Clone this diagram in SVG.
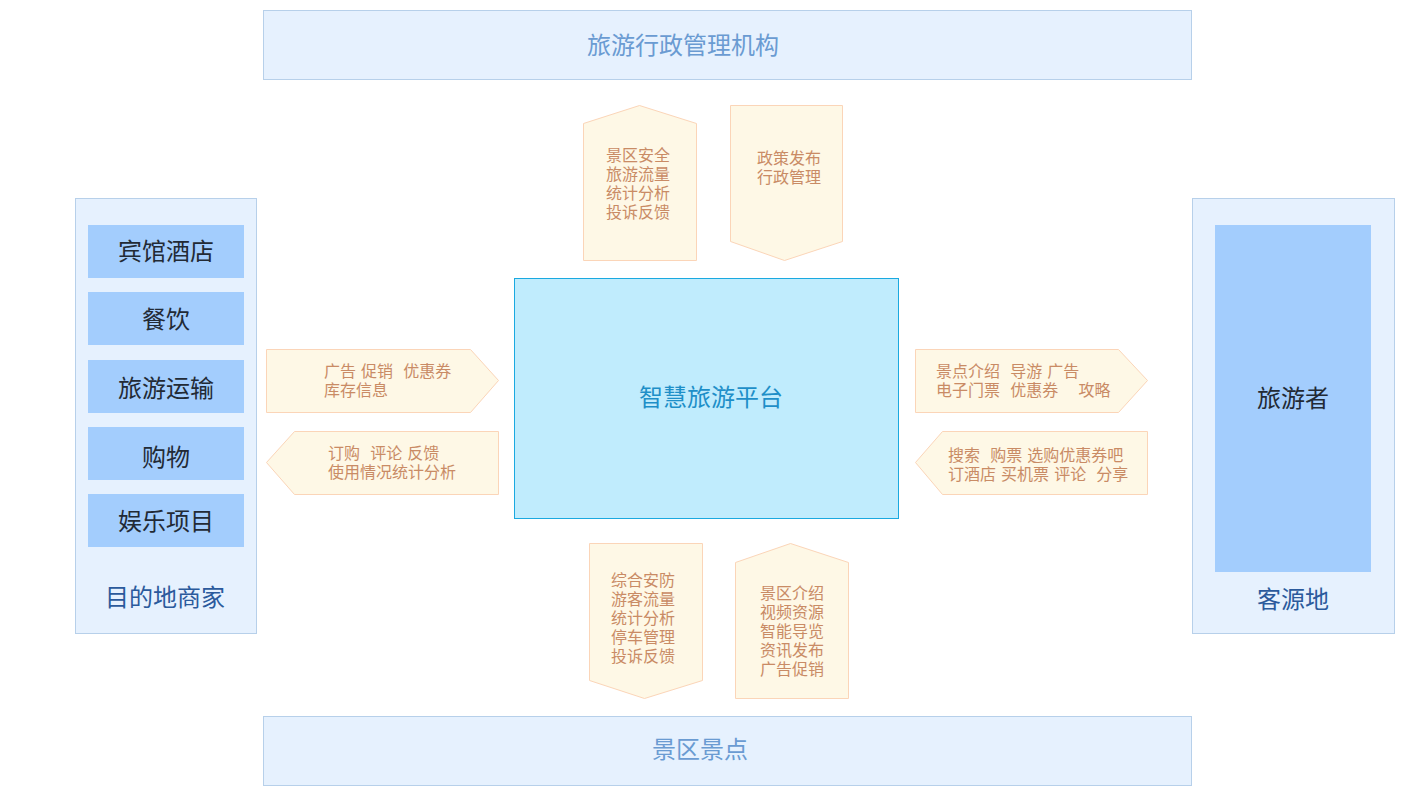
<svg xmlns="http://www.w3.org/2000/svg" width="1421" height="807" viewBox="0 0 1421 807">
<style>
text{font-family:"Microsoft YaHei","Noto Sans CJK SC",sans-serif}
.band{fill:#e6f1fe;stroke:#b7d0ea;stroke-width:1}
.bandt{font-size:24px;fill:#6a9bd2;text-anchor:middle}
.cont{fill:#e6f1fe;stroke:#b7d0ea;stroke-width:1}
.item{fill:#a3cdfd}
.itemt{font-size:24px;fill:#222a35;text-anchor:middle}
.lab{font-size:24px;fill:#2b5a9c;text-anchor:middle}
.arr{fill:#fef8e6;stroke:#fbd5b8;stroke-width:1}
.at{font-size:16px;fill:#c98b65;word-spacing:1.5px}
.atc{font-size:16px;fill:#c98b65;text-anchor:middle}
</style>
<rect width="1421" height="807" fill="#ffffff"/>
<g id="admin"><rect class="band" x="263.5" y="10.5" width="928" height="69"/><text class="bandt" x="683" y="54">旅游行政管理机构</text></g>
<g id="scenic"><rect class="band" x="263.5" y="716.5" width="928" height="69"/><text class="bandt" x="700" y="758">景区景点</text></g>
<g id="merchants">
<rect class="cont" x="75.5" y="198.5" width="181" height="435"/>
<rect class="item" x="88" y="225" width="156" height="53"/><text class="itemt" x="166" y="260">宾馆酒店</text>
<rect class="item" x="88" y="292" width="156" height="53"/><text class="itemt" x="166" y="328">餐饮</text>
<rect class="item" x="88" y="360" width="156" height="53"/><text class="itemt" x="166" y="397">旅游运输</text>
<rect class="item" x="88" y="427" width="156" height="53"/><text class="itemt" x="166" y="466">购物</text>
<rect class="item" x="88" y="494" width="156" height="53"/><text class="itemt" x="166" y="530">娱乐项目</text>
<text class="lab" x="165" y="606">目的地商家</text>
</g>
<g id="origin">
<rect class="cont" x="1192.5" y="198.5" width="202" height="435"/>
<rect class="item" x="1215" y="225" width="156" height="347"/><text class="itemt" x="1293" y="407">旅游者</text>
<text class="lab" x="1293" y="608">客源地</text>
</g>
<g id="platform"><rect x="514.5" y="278.5" width="384" height="240" fill="#c0ecfd" stroke="#1aa9e0"/><text x="711" y="406" font-size="24" fill="#1e8fc8" text-anchor="middle">智慧旅游平台</text></g>
<g id="connectors">
<g id="up-tl"><polygon class="arr" points="583.5,123.5 639.5,105.5 696.5,123.5 696.5,260.5 583.5,260.5"/>
<text class="atc" x="638" y="161">景区安全</text><text class="atc" x="638" y="180">旅游流量</text><text class="atc" x="638" y="199">统计分析</text><text class="atc" x="638" y="218">投诉反馈</text></g>
<g id="down-tr"><polygon class="arr" points="730.5,105.5 842.5,105.5 842.5,241.5 784.5,260.5 730.5,241.5"/>
<text class="atc" x="789" y="164">政策发布</text><text class="atc" x="789" y="183">行政管理</text></g>
<g id="right-l1"><polygon class="arr" points="266.5,349.5 470.5,349.5 498.5,380.5 470.5,412.5 266.5,412.5"/>
<text class="at" x="324" y="377" xml:space="preserve">广告 促销  优惠券</text><text class="at" x="324" y="396">库存信息</text></g>
<g id="left-l2"><polygon class="arr" points="294.5,431.5 498.5,431.5 498.5,494.5 294.5,494.5 266.5,462.5"/>
<text class="at" x="328" y="459" xml:space="preserve">订购  评论 反馈</text><text class="at" x="328" y="478">使用情况统计分析</text></g>
<g id="right-r1"><polygon class="arr" points="915.5,349.5 1118.5,349.5 1147.5,380.5 1118.5,412.5 915.5,412.5"/>
<text class="at" x="936" y="377" xml:space="preserve">景点介绍  导游 广告</text><text class="at" x="936" y="396" xml:space="preserve">电子门票  优惠券    攻略</text></g>
<g id="left-r2"><polygon class="arr" points="942.5,431.5 1147.5,431.5 1147.5,494.5 942.5,494.5 915.5,462.5"/>
<text class="at" x="948" y="461" xml:space="preserve">搜索  购票 选购优惠券吧</text><text class="at" x="948" y="480" xml:space="preserve">订酒店 买机票 评论  分享</text></g>
<g id="down-bl"><polygon class="arr" points="589.5,543.5 702.5,543.5 702.5,680.5 644.5,698.5 589.5,680.5"/>
<text class="atc" x="643" y="586">综合安防</text><text class="atc" x="643" y="605">游客流量</text><text class="atc" x="643" y="624">统计分析</text><text class="atc" x="643" y="643">停车管理</text><text class="atc" x="643" y="662">投诉反馈</text></g>
<g id="up-br"><polygon class="arr" points="735.5,562.5 790.5,543.5 848.5,562.5 848.5,698.5 735.5,698.5"/>
<text class="atc" x="792" y="599">景区介绍</text><text class="atc" x="792" y="618">视频资源</text><text class="atc" x="792" y="637">智能导览</text><text class="atc" x="792" y="656">资讯发布</text><text class="atc" x="792" y="675">广告促销</text></g>
</g>
</svg>
